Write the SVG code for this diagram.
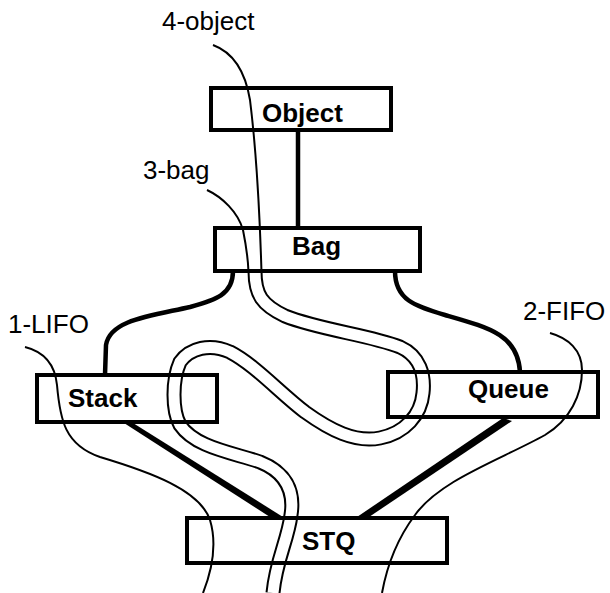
<svg xmlns="http://www.w3.org/2000/svg" width="610" height="593" viewBox="0 0 610 593">
<style>
.box{fill:none;stroke:#000;stroke-width:4}
.lbl{font-family:"Liberation Sans",Arial,sans-serif;font-weight:bold;font-size:26px;fill:#000}
.tag{font-family:"Liberation Sans",Arial,sans-serif;font-size:26px;fill:#000}
.thin{fill:none;stroke:#000;stroke-width:2}
.conn{fill:none;stroke:#000;stroke-width:4.5;stroke-linecap:butt}
.taper{fill:#000;stroke:none}
.bandk{fill:none;stroke:#000;stroke-width:15}
.bandw{fill:none;stroke:#fff;stroke-width:11}
</style>
<defs>
  <path id="band" d="M255,271 C255,295 262,305 285,316 C320,330 370,335 400,347 C420,356 425,375 423,393 C421,415 405,433 380,438 C355,443 330,430 305,412 C280,393 255,365 230,352 C210,343 190,348 180,362 C172,380 172,410 180,425 C195,447 230,452 260,462 C285,472 295,490 291,515 C288,540 276,560 273,593"/>
</defs>
<rect width="610" height="593" fill="#fff"/>
<g id="traces">
  <use href="#band" class="bandk"/>
  <use href="#band" class="bandw"/>
  <path class="thin" d="M213,45 C232,52 245,70 250,100 C255,140 259,190 261.5,272"/>
  <path class="thin" d="M207,190 C222,197 238,212 243,230 C246,245 248,258 248.5,272"/>
  <path class="thin" d="M25,347 C45,352 55,365 57,385 C60,420 65,445 100,457 C150,472 200,490 210,520 C216,540 214,565 203,593"/>
  <path class="thin" d="M550,333 C568,338 582,350 582,370 C582,395 570,420 545,435 C500,460 440,480 415,515 C400,535 388,560 382,593"/>
</g>
<g id="connectors">
  <line class="conn" x1="298" y1="130" x2="298" y2="228"/>
  <path class="conn" d="M233,271 C233,295 215,300 190,307 C150,316 110,320 106,345 L105,375"/>
  <path class="conn" d="M395,271 C395,300 415,306 445,315 C490,328 518,335 520,372"/>
  <polygon class="taper" points="124,423 133,423 283,517 270,517"/>
  <polygon class="taper" points="503,418 512,421 369,517 357,517"/>
</g>
<g id="object">
  <rect class="box" x="211" y="88" width="180" height="42"/>
  <text class="lbl" x="262" y="122">Object</text>
</g>
<g id="bag">
  <rect class="box" x="215" y="228" width="205" height="43"/>
  <text class="lbl" x="292" y="255">Bag</text>
</g>
<g id="stack">
  <rect class="box" x="37" y="375" width="180" height="47"/>
  <text class="lbl" x="68" y="407">Stack</text>
</g>
<g id="queue">
  <rect class="box" x="388" y="372" width="210" height="45"/>
  <text class="lbl" x="468" y="398">Queue</text>
</g>
<g id="stq">
  <rect class="box" x="187" y="518" width="260" height="45"/>
  <text class="lbl" x="302" y="550">STQ</text>
</g>
<g id="labels">
  <text class="tag" x="162" y="30">4-object</text>
  <text class="tag" x="143" y="179">3-bag</text>
  <text class="tag" x="8" y="333">1-LIFO</text>
  <text class="tag" x="523" y="320">2-FIFO</text>
</g>
</svg>
